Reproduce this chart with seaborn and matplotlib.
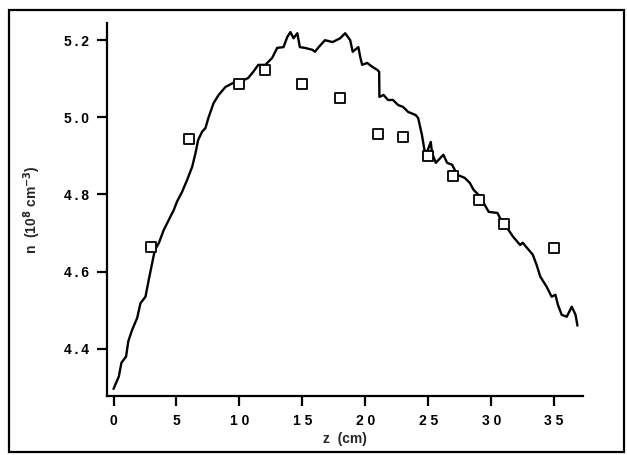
import numpy as np
import pandas as pd
import seaborn as sns
import matplotlib.pyplot as plt
from matplotlib.patches import Rectangle

# traced profile (z in cm, n in 1e8 cm^-3)
z_line = [0.0, 0.42, 0.63, 1.0, 1.17, 1.48, 1.88, 2.14, 2.54, 2.80, 3.07, 3.28,
          3.6, 3.99, 4.39, 4.79, 5.05, 5.45, 5.85, 6.25, 6.51, 6.72, 7.04, 7.3,
          7.55, 7.95, 8.35, 8.9, 9.5, 10.3, 10.7, 11.1, 11.5, 12.06, 12.6, 13.0,
          13.5, 13.8, 14.05, 14.3, 14.6, 14.8, 15.2, 15.8, 16.0, 16.3, 16.8, 17.4,
          18.0, 18.4, 18.8, 19.0, 19.45, 19.6, 19.75, 20.15, 20.55, 20.95, 21.1,
          21.12, 21.45, 21.8, 22.2, 22.6, 23.0, 23.4, 24.0, 24.2, 24.5, 24.7, 24.9,
          25.2, 25.3, 25.6, 26.2, 26.5, 26.9, 27.3, 27.9, 28.3, 28.6, 29.0, 29.4,
          29.8, 30.5, 30.7, 31.1, 31.75, 32.3, 32.5, 33.3, 33.6, 33.9, 34.4, 34.8,
          35.1, 35.3, 35.6, 36.0, 36.4, 36.7, 36.85]
n_line = [4.296, 4.328, 4.364, 4.38, 4.419, 4.449, 4.48, 4.518, 4.535, 4.579, 4.622, 4.656,
          4.674, 4.708, 4.734, 4.76, 4.782, 4.807, 4.838, 4.872, 4.907, 4.941, 4.963, 4.972,
          5.0, 5.037, 5.058, 5.079, 5.089, 5.096, 5.102, 5.118, 5.136, 5.136, 5.154, 5.18,
          5.182, 5.208, 5.221, 5.205, 5.218, 5.182, 5.18, 5.175, 5.17, 5.182, 5.2, 5.195,
          5.205, 5.218, 5.2, 5.17, 5.182, 5.156, 5.136, 5.141, 5.131, 5.123, 5.118,
          5.053, 5.058, 5.045, 5.045, 5.032, 5.027, 5.014, 5.006, 4.998, 4.954, 4.915, 4.91,
          4.936, 4.908, 4.882, 4.903, 4.882, 4.877, 4.851, 4.843, 4.83, 4.812, 4.799, 4.778,
          4.755, 4.752, 4.739, 4.721, 4.69, 4.669, 4.675, 4.644, 4.618, 4.587, 4.561, 4.535,
          4.54, 4.514, 4.488, 4.483, 4.509, 4.488, 4.46]

# probe measurements
z_pts = [3, 6, 10, 12, 15, 18, 21, 23, 25, 27, 29, 31, 35]
n_pts = [4.665, 4.945, 5.087, 5.123, 5.087, 5.051, 4.958, 4.949, 4.899, 4.848,
         4.785, 4.723, 4.662]

x_ticks = [0, 5, 10, 15, 20, 25, 30, 35]
x_labels = ["0", "5", "1 0", "1 5", "2 0", "2 5", "3 0", "3 5"]
y_ticks = [4.4, 4.6, 4.8, 5.0, 5.2]
y_labels = ["4\u2009.\u20094", "4\u2009.\u20096", "4\u2009.\u20098", "5\u2009.\u20090", "5\u2009.\u20092"]

sns.set_style("ticks")
plt.rcParams['font.family'] = ['Liberation Sans', 'DejaVu Sans']

fig = plt.figure(figsize=(6.27, 4.55), dpi=100)
ax = fig.add_axes([0.171, 0.130, 0.759, 0.819])

line_df = pd.DataFrame({"z": z_line, "n": n_line})
pts_df = pd.DataFrame({"z": z_pts, "n": n_pts})

sns.lineplot(data=line_df, x="z", y="n", ax=ax, color="black", linewidth=1.7)
sns.scatterplot(data=pts_df, x="z", y="n", ax=ax, marker="s", s=55,
                facecolor="white", edgecolor="black", linewidth=1.3, zorder=3)

ax.set_xlim(-0.5, 37.3)
ax.set_ylim(4.278, 5.244)
ax.set_xticks(x_ticks)
ax.set_xticklabels(x_labels, fontweight="bold")
ax.set_yticks(y_ticks)
ax.set_yticklabels(y_labels, fontweight="bold")
ax.tick_params(direction="out", length=7, width=1.6, labelsize=10, colors="black")
ax.tick_params(axis="y", pad=6)
ax.tick_params(axis="x", pad=6)
for s in ("left", "bottom"):
    ax.spines[s].set_linewidth(1.6)
    ax.spines[s].set_color("black")
sns.despine(ax=ax)

ax.set_xlabel("z  (cm)", fontsize=10, fontweight="bold", labelpad=3)
ax.set_ylabel("n  (10$^{\\mathbf{8}}$ cm$^{\\mathbf{-3}}$)", fontsize=10,
              fontweight="bold", labelpad=15)

fig.patches.append(Rectangle((0.014, 0.007), 0.982, 0.972, transform=fig.transFigure,
                             fill=False, edgecolor="black", linewidth=1.6))

fig.savefig("out.png", dpi=100)
